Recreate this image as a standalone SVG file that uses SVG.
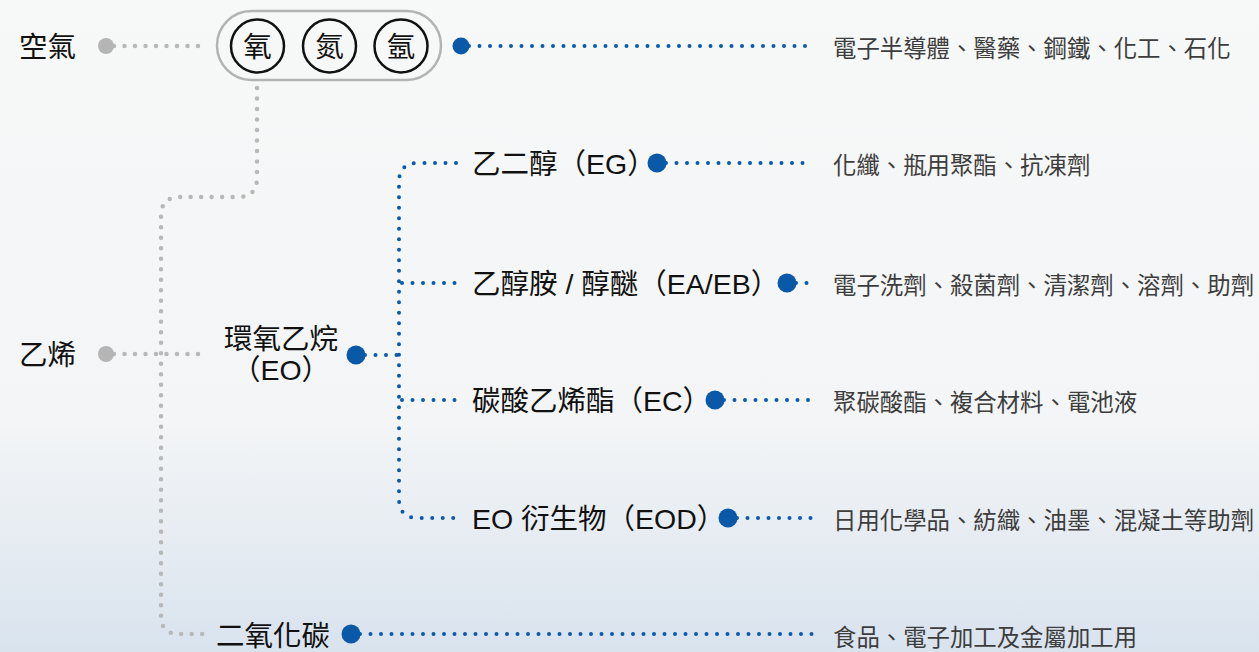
<svg xmlns="http://www.w3.org/2000/svg" width="1259" height="652" viewBox="0 0 1259 652">
<defs>
<linearGradient id="bg" x1="0" y1="0" x2="0" y2="1">
<stop offset="0" stop-color="#f7f8f8"/>
<stop offset="0.65" stop-color="#f3f5f6"/>
<stop offset="1" stop-color="#d9e3ee"/>
</linearGradient>
<style>
.lbl{font-family:"Liberation Sans","Noto Sans CJK TC",sans-serif;font-size:28.5px;fill:#111;dominant-baseline:central}
.use{font-family:"Noto Sans CJK TC","Noto Sans",sans-serif;font-size:23.4px;fill:#3d3d3d;dominant-baseline:central}
.gl{fill:none;stroke:#b8b8b8;stroke-width:4.5;stroke-linecap:round;stroke-dasharray:0 10.5}
.bl{fill:none;stroke:#0a5aab;stroke-width:4;stroke-linecap:round;stroke-dasharray:0 10.5}
.gd{fill:#b5b5b5}
.bd{fill:#0a58a8}
.el{fill:none;stroke:#111;stroke-width:2.5}
</style>
</defs>
<rect width="1259" height="652" fill="url(#bg)"/>
<g id="connectors">
<path class="gl" d="M114 46 H206"/>
<path class="gl" d="M257 88 V178 Q257 197 238 197 H180 Q161 197 161 216 V616 Q161 634 179 634 H206"/>
<path class="gl" d="M114 354 H208"/>
<path class="bl" d="M469 46 H812"/>
<path class="bl" d="M365 355 H398"/>
<path class="bl" d="M456 163 H418 Q399 163 399 182 V499 Q399 518 418 518 H456"/>
<path class="bl" d="M402 283 H456"/>
<path class="bl" d="M402 400 H456"/>
<path class="bl" d="M666 163 H812"/>
<path class="bl" d="M796 283 H812"/>
<path class="bl" d="M724 400 H812"/>
<path class="bl" d="M737 518 H812"/>
<path class="bl" d="M360 634 H812"/>
</g>
<g id="air">
<text class="lbl" x="19" y="47">空氣</text>
<circle class="gd" cx="106" cy="46" r="8"/>
</g>
<g id="gases">
<rect x="217" y="11" width="224" height="69" rx="34.5" fill="none" stroke="#b3b3b3" stroke-width="2.5"/>
<circle class="el" cx="257.5" cy="46" r="26.5"/>
<circle class="el" cx="329.5" cy="46" r="26.5"/>
<circle class="el" cx="401" cy="46" r="26.5"/>
<text class="lbl" x="257.5" y="47" text-anchor="middle" font-size="27">氧</text>
<text class="lbl" x="329.5" y="47" text-anchor="middle" font-size="27">氮</text>
<text class="lbl" x="401" y="47" text-anchor="middle" font-size="27">氬</text>
<circle class="bd" cx="461" cy="46" r="8.5"/>
</g>
<g id="ethylene">
<text class="lbl" x="19" y="355">乙烯</text>
<circle class="gd" cx="106" cy="354" r="8"/>
</g>
<g id="eo">
<text class="lbl" x="281" y="339" text-anchor="middle">環氧乙烷</text>
<text class="lbl" x="281" y="370" text-anchor="middle">（EO）</text>
<circle class="bd" cx="356" cy="355" r="9.5"/>
</g>
<g id="eg">
<text class="lbl" x="472" y="164">乙二醇（EG）</text>
<circle class="bd" cx="657" cy="163" r="9.5"/>
</g>
<g id="eaeb">
<text class="lbl" x="472" y="284">乙醇胺 / 醇醚（EA/EB）</text>
<circle class="bd" cx="787" cy="283" r="9.5"/>
</g>
<g id="ec">
<text class="lbl" x="472" y="401">碳酸乙烯酯（EC）</text>
<circle class="bd" cx="715" cy="400" r="9.5"/>
</g>
<g id="eod">
<text class="lbl" x="472" y="519">EO 衍生物（EOD）</text>
<circle class="bd" cx="728" cy="518" r="9.5"/>
</g>
<g id="co2">
<text class="lbl" x="216" y="636">二氧化碳</text>
<circle class="bd" cx="351" cy="634" r="9.5"/>
</g>
<g id="uses">
<text class="use" x="833" y="47">電子半導體、醫藥、鋼鐵、化工、石化</text>
<text class="use" x="833" y="164">化纖、瓶用聚酯、抗凍劑</text>
<text class="use" x="833" y="284">電子洗劑、殺菌劑、清潔劑、溶劑、助劑</text>
<text class="use" x="833" y="401">聚碳酸酯、複合材料、電池液</text>
<text class="use" x="833" y="519">日用化學品、紡織、油墨、混凝土等助劑</text>
<text class="use" x="833" y="636">食品、電子加工及金屬加工用</text>
</g>
</svg>
